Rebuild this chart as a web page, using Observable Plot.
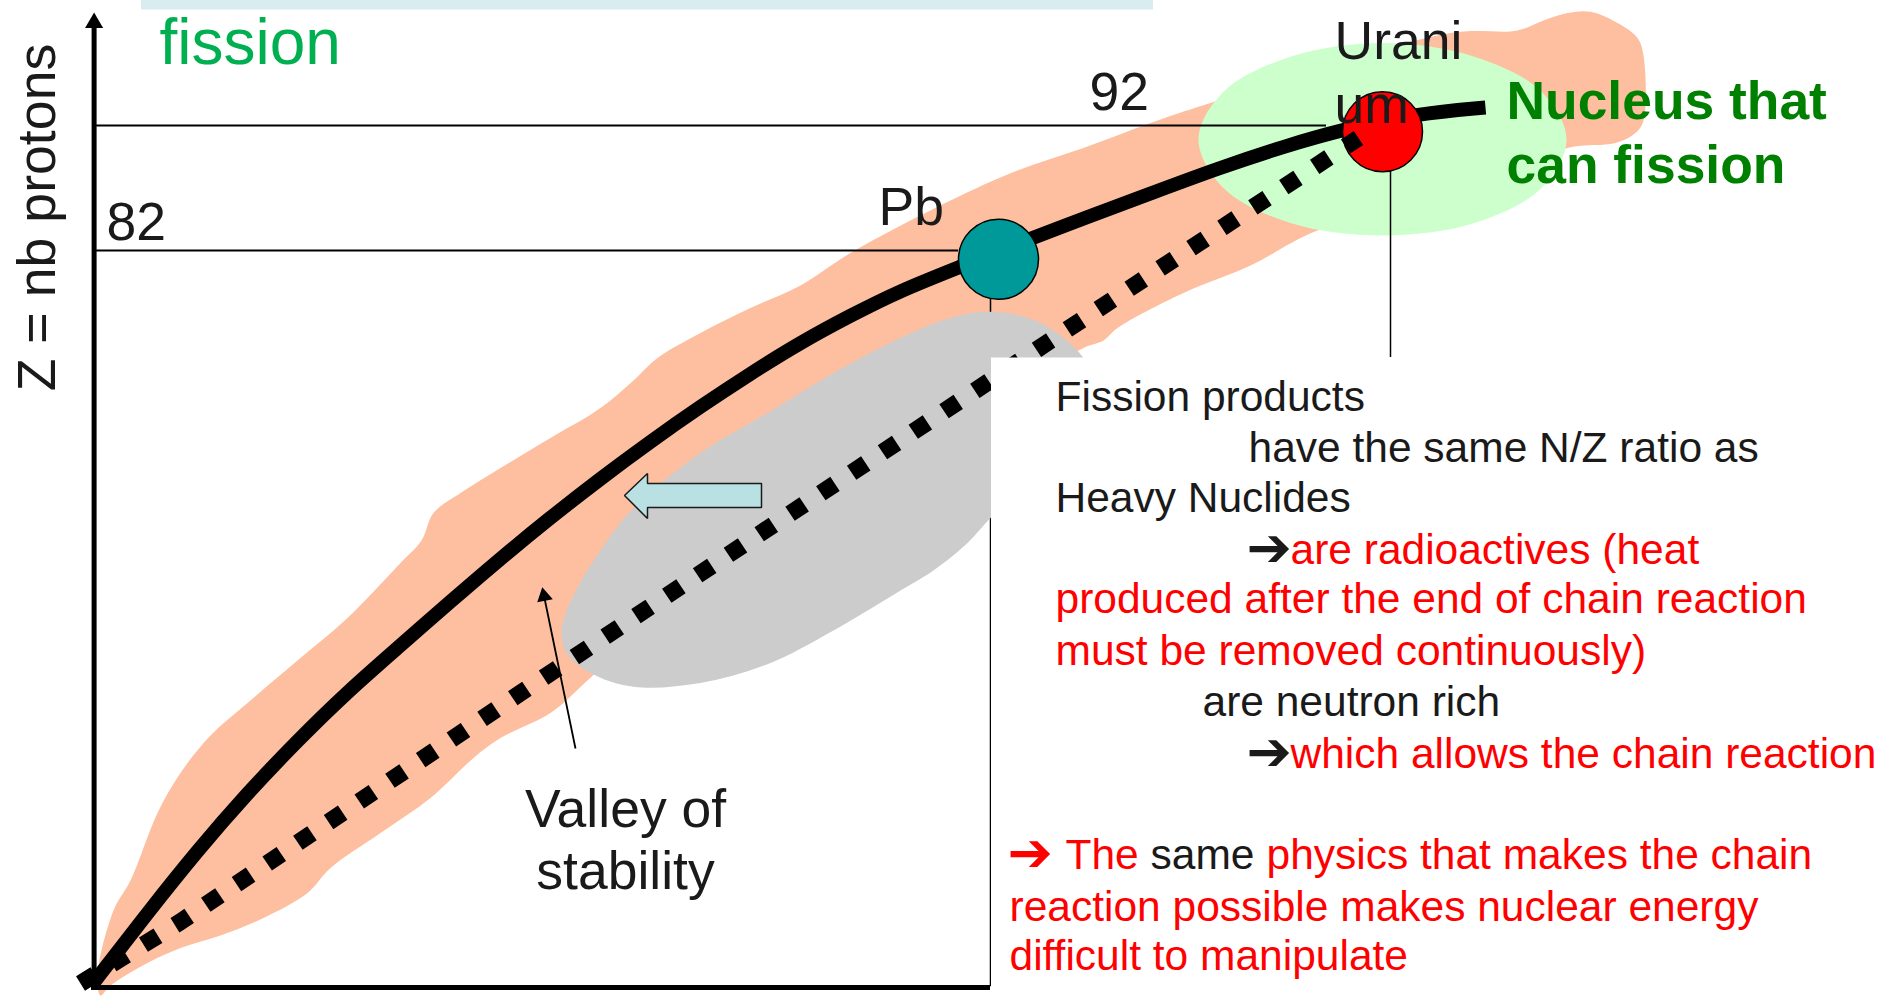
<!DOCTYPE html>
<html>
<head>
<meta charset="utf-8">
<script src="https://cdn.jsdelivr.net/npm/d3@7"></script>
<script src="https://cdn.jsdelivr.net/npm/@observablehq/plot@0.6"></script>
<style>
html, body { margin: 0; padding: 0; background: #ffffff; }
#chart svg { display: block; }
</style>
</head>
<body>
<div id="chart"></div>
<script>
// Schematic chart of nuclides: x = N (neutrons), y = Z (protons)
const zTicks = [82, 92];
const zTickLineEnds = [123.9, 142.3];            // N where each Z line meets its nucleus

// peach band of known nuclides [N, Z]
const nuclideBand = [
  [81.0,22.4],[80.85,24.0],[81.65,29.2],[82.5,31.6],[83.85,37.0],[85.0,40.2],[86.5,43.2],
  [88.35,45.8],[90.85,49.2],[93.35,52.6],[96.0,57.0],[97.05,58.8],[97.65,61.0],[99.0,62.6],
  [101.0,64.6],[103.5,67.0],[106.0,69.4],[107.65,71.6],[108.85,73.4],[111.0,75.4],[113.5,77.4],
  [116.0,79.2],[118.5,81.8],[123.5,86.0],[126.85,88.4],[130.15,90.2],[133.5,92.2],[136.5,93.8],
  [148.5,99.4],[151.85,99.6],[153.15,100.4],[154.35,101.0],[155.5,101.1],[156.85,100.2],
  [157.85,99.0],[158.15,97.6],[158.15,92.4],[157.75,91.4],[156.75,90.6],[154.35,90.2],
  [148.5,86.4],[141.85,83.6],[138.5,80.8],[135.15,78.6],[131.85,75.8],[131.15,74.8],[130.15,74.2],
  [126.0,70.0],[121.0,64.4],[113.5,57.2],[107.0,50.0],[105.35,47.6],[103.5,45.0],[101.0,43.0],
  [99.65,41.4],[97.5,38.2],[95.0,35.4],[92.5,32.6],[91.35,30.6],[89.15,28.6],[87.0,27.2],
  [85.0,26.2],[83.35,25.0],[81.5,23.2]
];

// light green zone of fissile nuclei
const fissileZone = [
  [154.3,90.9],[153.05,87.0],[149.7,84.2],[145.1,83.2],[140.5,84.2],[137.15,87.0],
  [135.9,90.9],[137.15,94.7],[140.5,97.5],[145.1,98.6],[149.7,97.5],[153.05,94.7]
];

// grey zone of fission products
const fissionProductZone = [
  [104.05,51.6],[104.65,54.4],[106.0,58.0],[107.65,61.4],[111.0,65.8],[114.35,69.0],
  [117.65,72.2],[121.0,75.0],[123.5,76.6],[125.5,77.1],[128.0,76.2],[130.15,73.4],
  [131.0,70.0],[129.0,65.2],[127.0,62.8],[125.5,60.6],[124.35,58.6],[122.65,56.4],
  [121.0,54.8],[117.65,51.6],[114.35,48.9],[111.0,47.4],[107.65,47.1],[105.5,48.2],[104.3,49.8]
];

// valley of stability (solid line)
const stabilityLine = [
  [80.65,23.4],[83.35,29.0],[85.85,34.0],[88.35,38.6],[90.85,42.8],[93.35,46.7],[95.85,50.2],
  [98.5,53.92],[101.0,57.36],[103.5,60.64],[106.0,63.76],[108.5,66.72],[111.0,69.52],[113.5,72.16],
  [116.0,74.64],[118.5,76.8],[121.0,78.8],[123.9,80.64],[127.65,83.04],[130.15,84.56],[133.5,86.56],
  [136.85,88.56],[140.15,90.32],[143.1,91.68],[146.85,92.96],[150.25,93.44]
];

// constant N/Z ratio line (dotted)
const constantRatioLine = [[80.0,23.36],[85.0,28.3],[102.0,46.6],[128.5,74.8],[143.9,91.0]];

// nuclei markers
const nuclei = [
  {name: "Pb", n: 125.9, z: 81.3},
  {name: "U", n: 145.1, z: 91.5}
];

// neutron-emission arrow (pointing toward lower N)
const shiftArrow = [
  [107.2,62.4],[108.35,64.16],[108.35,63.36],[114.05,63.36],[114.05,61.44],[108.35,61.44],[108.35,60.56]
];

// label anchors [text, N, Z]
const zTickLabels = [["82", 81.3, 82.88], ["92", 130.45, 93.28]];
const nucleusLabels = [["Pb", 119.9, 84.08], ["Urani", 142.7, 97.36], ["um", 142.7, 92.24]];
const fissileLabels = [["Nucleus that", 151.3, 92.56], ["can fission", 151.3, 87.44]];
const valleyLabels = [["Valley of", 107.25, 35.92], ["stability", 107.25, 30.96]];
const noteLines = [
  ["Fission products", 128.75, 69.2, "ink"],
  ["have the same N/Z ratio as", 138.4, 65.12, "ink"],
  ["Heavy Nuclides", 128.75, 61.12, "ink"],
  ["are radioactives (heat", 140.5, 56.96, "alert"],
  ["produced after the end of chain reaction", 128.75, 53.04, "alert"],
  ["must be removed continuously)", 128.75, 48.88, "alert"],
  ["are neutron rich", 136.1, 44.8, "ink"],
  ["which allows the chain reaction", 140.5, 40.64, "alert"],
  ["The", 129.25, 32.56, "alert"],
  ["same", 133.5, 32.56, "ink"],
  ["physics that makes the chain", 139.3, 32.56, "alert"],
  ["reaction possible makes nuclear energy", 126.45, 28.4, "alert"],
  ["difficult to manipulate", 126.45, 24.48, "alert"]
];
const noteArrows = [["➔", 138.3, 56.8, "ink"], ["➔", 138.3, 40.48, "ink"], ["➔", 126.35, 32.4, "alert"]];

const tone = {ink: "#1a1a1a", alert: "#ff0000"};
const nucleusFill = {Pb: "#009999", U: "#ff0000"};
const FONT = "'Liberation Sans', Arial, sans-serif";

const zLines = zTicks.map((z, i) => ({z, n1: 80.7, n2: zTickLineEnds[i]}));

const plot = Plot.plot({
  width: 1883,
  height: 997,
  margin: 0,
  x: {domain: [76, 170.15], axis: null},
  y: {domain: [22.24, 102], axis: null},
  color: {type: "identity"},
  style: {fontFamily: FONT, background: "#ffffff", overflow: "visible"},
  marks: [
    // pale strip at the top
    Plot.rect([{n1: 83.05, n2: 133.65, z1: 101.24, z2: 102}], {x1: "n1", x2: "n2", y1: "z1", y2: "z2", fill: "#d9edf0"}),
    // band of nuclides
    Plot.line(nuclideBand, {x: d => d[0], y: d => d[1], fill: "#fdbf9f", stroke: "none", curve: "catmull-rom-closed"}),
    // fissile zone
    Plot.line(fissileZone, {x: d => d[0], y: d => d[1], fill: "#ccffcc", stroke: "none", curve: "catmull-rom-closed"}),
    // Z reference lines
    Plot.ruleY(zLines, {y: "z", x1: "n1", x2: "n2", stroke: "#000", strokeWidth: 1.8}),
    // stem from Pb down to the bottom (frame of the note box)
    Plot.ruleX([{n: 125.5, z1: 78.08, z2: 23.1}], {x: "n", y1: "z1", y2: "z2", stroke: "#000", strokeWidth: 1.5}),
    // fission products zone
    Plot.line(fissionProductZone, {x: d => d[0], y: d => d[1], fill: "#cccccc", stroke: "none", curve: "catmull-rom-closed"}),
    // shift arrow
    Plot.line(shiftArrow, {x: d => d[0], y: d => d[1], fill: "#b9e0e3", stroke: "#1a1a1a", strokeWidth: 1.5, curve: "linear-closed", strokeLinejoin: "miter"}),
    // valley of stability pointer
    Plot.link([{n1: 104.75, z1: 42.16, n2: 103.18, z2: 54.34}], {x1: "n1", y1: "z1", x2: "n2", y2: "z2", stroke: "#000", strokeWidth: 1.8}),
    Plot.dot([{n: 103.18, z: 54.34}], {x: "n", y: "z", symbol: "triangle", r: 5.9, rotate: -11.6, fill: "#000", stroke: "none"}),
    // valley of stability line
    Plot.line(stabilityLine, {x: d => d[0], y: d => d[1], stroke: "#000", strokeWidth: 14, curve: "basis", strokeLinecap: "butt"}),
    // nuclei
    Plot.dot(nuclei, {x: "n", y: "z", r: 40, fill: d => nucleusFill[d.name], stroke: "#000", strokeWidth: 1.5}),
    // constant N/Z line
    Plot.line(constantRatioLine, {x: d => d[0], y: d => d[1], stroke: "#000", strokeWidth: 17, strokeDasharray: "17,20", strokeLinecap: "butt", strokeLinejoin: "miter"}),
    // note box
    Plot.rect([{n1: 125.55, n2: 170.15, z1: 22.24, z2: 73.4}], {x1: "n1", x2: "n2", y1: "z1", y2: "z2", fill: "#ffffff"}),
    // uranium stem
    Plot.ruleX([{n: 145.5, z1: 88.32, z2: 73.44}], {x: "n", y1: "z1", y2: "z2", stroke: "#000", strokeWidth: 1.5}),
    // axes
    Plot.ruleY([23.04], {x1: 80.55, x2: 125.5, stroke: "#000", strokeWidth: 5}),
    Plot.ruleX([80.68], {y1: 22.88, y2: 100.0, stroke: "#000", strokeWidth: 5}),
    Plot.dot([{n: 80.68, z: 100.21}], {x: "n", y: "z", symbol: "triangle", r: 6.7, fill: "#000", stroke: "none"}),
    // texts
    Plot.text([["fission", 83.95, 96.96]], {x: d => d[1], y: d => d[2], text: d => d[0], fill: "#00b050", fontSize: 64, fontFamily: FONT, textAnchor: "start", lineAnchor: "bottom"}),
    Plot.text([["Z = nb protons", 78.7, 84.64]], {x: d => d[1], y: d => d[2], text: d => d[0], rotate: -90, fill: "#1a1a1a", fontSize: 53.7, fontFamily: FONT, textAnchor: "middle", lineAnchor: "bottom"}),
    Plot.text(zTickLabels, {x: d => d[1], y: d => d[2], text: d => d[0], fill: "#1a1a1a", fontSize: 53.5, fontFamily: FONT, textAnchor: "start", lineAnchor: "bottom"}),
    Plot.text(nucleusLabels, {x: d => d[1], y: d => d[2], text: d => d[0], fill: "#1a1a1a", fontSize: 53.5, fontFamily: FONT, textAnchor: "start", lineAnchor: "bottom"}),
    Plot.text(fissileLabels, {x: d => d[1], y: d => d[2], text: d => d[0], fill: "#008000", fontSize: 53.4, fontWeight: "bold", fontFamily: FONT, textAnchor: "start", lineAnchor: "bottom"}),
    Plot.text(valleyLabels, {x: d => d[1], y: d => d[2], text: d => d[0], fill: "#1a1a1a", fontSize: 53.5, fontFamily: FONT, textAnchor: "middle", lineAnchor: "bottom"}),
    Plot.text(noteLines, {x: d => d[1], y: d => d[2], text: d => d[0], fill: d => tone[d[3]], fontSize: 42.5, fontFamily: FONT, textAnchor: "start", lineAnchor: "bottom"}),
    Plot.text(noteArrows, {x: d => d[1], y: d => d[2], text: d => d[0], fill: d => tone[d[3]], fontSize: 54, fontWeight: "bold", fontFamily: "'DejaVu Sans', sans-serif", textAnchor: "start", lineAnchor: "bottom"})
  ]
});

document.getElementById("chart").appendChild(plot);
</script>
</body>
</html>
